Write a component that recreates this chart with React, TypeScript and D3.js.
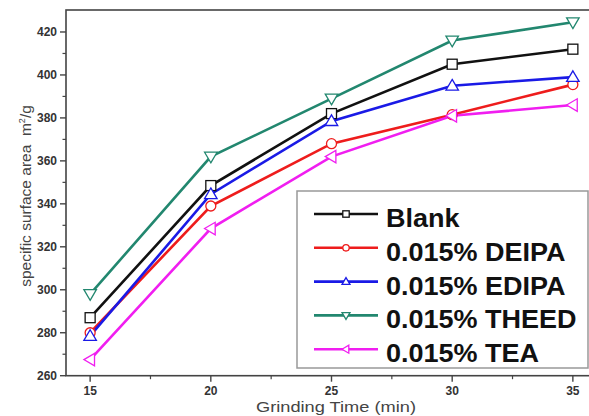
import React from "react";
import * as d3 from "d3";

const grindTimes = [15, 20, 25, 30, 35];
const seriesNames = ["Blank", "0.015% DEIPA", "0.015% EDIPA", "0.015% THEED", "0.015% TEA"];
const blank = [287, 348.5, 382, 405, 412];
const deipa = [280, 339, 368, 381.5, 395.5];
const edipa = [278.5, 344.5, 378.5, 395, 399];
const theed = [298, 362, 389, 416, 424.5];
const tea = [267.5, 328.5, 362, 381, 386];
const yTicks = [260, 280, 300, 320, 340, 360, 380, 400, 420];
const xTicks = [15, 20, 25, 30, 35];

const colors = ["#111111", "#ee1c1c", "#1a1ae6", "#22876f", "#f01ef0"];
const shapes = ["square", "circle", "up", "down", "left"];

const W = 589, H = 416;
const L = 66, T = 10, B = 375.7;
const x = d3.scaleLinear().domain([14, 36]).range([L, 597]);
const y = d3.scaleLinear().domain([260, 430]).range([B, T + 0.5]);

function Marker({ shape, cx, cy, color, r }: any) {
  const sw = 1.3;
  if (shape === "square")
    return <rect x={cx - r} y={cy - r} width={2 * r} height={2 * r} fill="#fff" stroke={color} strokeWidth={sw} />;
  if (shape === "circle") return <circle cx={cx} cy={cy} r={r} fill="#fff" stroke={color} strokeWidth={sw} />;
  let pts: number[][] = [];
  const k = r * 1.25;
  if (shape === "up") pts = [[cx, cy - k], [cx + k, cy + k * 0.7], [cx - k, cy + k * 0.7]];
  if (shape === "down") pts = [[cx, cy + k], [cx + k, cy - k * 0.7], [cx - k, cy - k * 0.7]];
  if (shape === "left") pts = [[cx - k, cy], [cx + k * 0.7, cy - k], [cx + k * 0.7, cy + k]];
  return <polygon points={pts.map((p) => p.join(",")).join(" ")} fill="#fff" stroke={color} strokeWidth={sw} />;
}

export default function App() {
  const all = [blank, deipa, edipa, theed, tea];
  const line = d3.line<number>().x((_, i) => x(grindTimes[i])).y((d) => y(d));
  const xMinor = d3.range(15, 36, 2.5).filter((v) => !xTicks.includes(v));
  const yMinor = d3.range(270, 430, 20);
  const legX = 297, legY = 191, legW = 291, legH = 177, rowH = 33.8;
  return (
    <svg width={W} height={H} style={{ position: "absolute", left: 0, top: 0, background: "#fff" }}
      fontFamily="Liberation Sans, Arial, sans-serif">
      <rect x={L} y={T} width={597 - L} height={B - T} fill="none" stroke="#444" strokeWidth={1.6} />
      {yTicks.map((v) => (
        <g key={"y" + v}>
          <line x1={L - 6} x2={L} y1={y(v)} y2={y(v)} stroke="#444" strokeWidth={1.4} />
          <text x={L - 9} y={y(v) + 4.5} textAnchor="end" fontSize={12} fontWeight="bold" fill="#333">{v}</text>
        </g>
      ))}
      {yMinor.map((v) => (
        <line key={"ym" + v} x1={L - 3.5} x2={L} y1={y(v)} y2={y(v)} stroke="#444" strokeWidth={1.2} />
      ))}
      {xTicks.map((v) => (
        <g key={"x" + v}>
          <line x1={x(v)} x2={x(v)} y1={B} y2={B + 6} stroke="#444" strokeWidth={1.4} />
          <text x={x(v)} y={B + 19} textAnchor="middle" fontSize={12} fontWeight="bold" fill="#333">{v}</text>
        </g>
      ))}
      {xMinor.map((v) => (
        <line key={"xm" + v} x1={x(v)} x2={x(v)} y1={B} y2={B + 3.5} stroke="#444" strokeWidth={1.2} />
      ))}
      <text x={256} y={412} fontSize={14.5} fill="#444" textLength={160} lengthAdjust="spacingAndGlyphs">
        Grinding Time (min)
      </text>
      <text transform={`translate(31,196) rotate(-90)`} textAnchor="middle" fontSize={15.5} fill="#444">
        specific surface area{"\u00a0\u00a0"}m<tspan dy={-6} fontSize={9}>2</tspan><tspan dy={6}>/g</tspan>
      </text>
      {all.map((vals, si) => (
        <path key={"l" + si} d={line(vals) || ""} fill="none" stroke={colors[si]} strokeWidth={2.6} />
      ))}
      {all.map((vals, si) =>
        vals.map((v, i) => (
          <Marker key={"m" + si + i} shape={shapes[si]} cx={x(grindTimes[i])} cy={y(v)} color={colors[si]} r={5} />
        ))
      )}
      <rect x={legX} y={legY} width={legW} height={legH} fill="#fff" stroke="#999" strokeWidth={1.5} />
      {seriesNames.map((n, i) => {
        const cy = legY + 23 + i * rowH;
        return (
          <g key={"lg" + i}>
            <line x1={314} x2={378} y1={cy} y2={cy} stroke={colors[i]} strokeWidth={2.6} />
            <Marker shape={shapes[i]} cx={346} cy={cy} color={colors[i]} r={3.2} />
            <text transform={`translate(386,${cy + 13}) scale(1.08,1)`} fontSize={25} fontWeight="bold" fill="#111">{n}</text>
          </g>
        );
      })}
    </svg>
  );
}
